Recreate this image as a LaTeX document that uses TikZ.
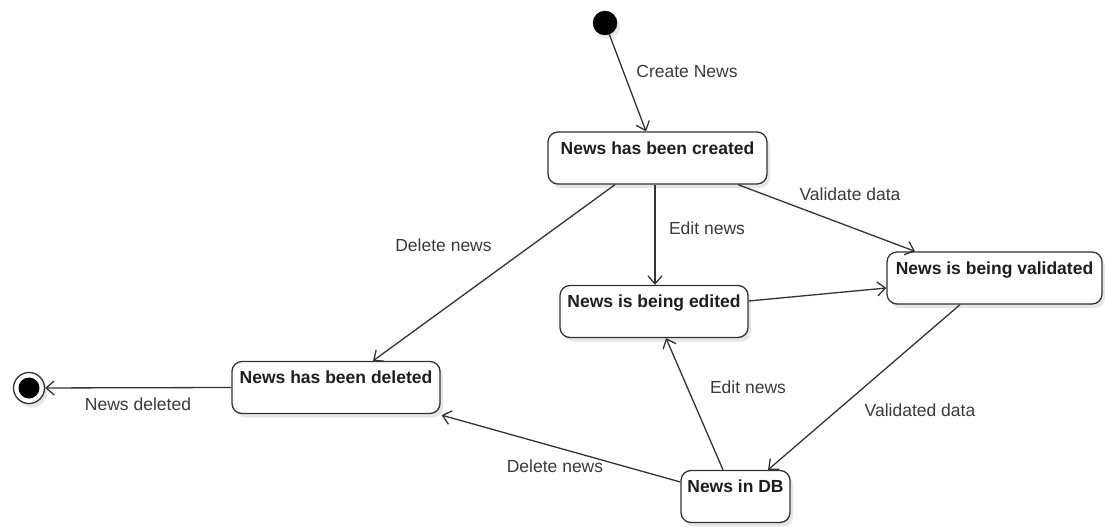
\documentclass[tikz,border=0pt]{standalone}
\usepackage{fontspec}
\setmainfont{Liberation Sans}
\usetikzlibrary{arrows.meta,shadows}
\definecolor{edge}{HTML}{333333}
\definecolor{lbl}{HTML}{3A3A3A}
\definecolor{ink}{HTML}{1E1E1E}
\tikzset{
  soft/.style={drop shadow={shadow xshift=3pt,shadow yshift=-4pt,fill=black!12,opacity=0.8}},
  statebox/.style={draw=edge,line width=1.3pt,rounded corners=10pt,fill=white,soft,
    inner xsep=0pt,inner ysep=0pt,text height=22pt,text depth=30pt,
    font=\fontsize{17.5}{20}\selectfont\bfseries,text=ink},
  initial/.style={circle,fill=black,draw=black,minimum size=24pt,inner sep=0pt,soft},
  final/.style={circle,draw=edge,fill=white,line width=1.3pt,minimum size=31pt,inner sep=0pt,soft,
    path picture={\fill[black] (path picture bounding box.center) circle (10.5pt);}},
  trans/.style={draw=edge,line width=1.3pt,-{Straight Barb[length=8pt,width=14pt,line width=1.3pt]}},
  tlabel/.style={font=\fontsize{17.5}{20}\selectfont,text=lbl,inner sep=0pt,text height=12.5pt,text depth=3.5pt}
}
\begin{document}
\begin{tikzpicture}[x=1pt,y=-1pt]
\useasboundingbox (0,0) rectangle (1105,527);

% states
\node[initial] (start) at (605,23) {};
\node[statebox,minimum width=219pt] (created) at (657.5,158) {News has been created};
\node[statebox,minimum width=188pt] (edited) at (654,311.5) {News is being edited};
\node[statebox,minimum width=215pt] (validated) at (994.5,278) {News is being validated};
\node[statebox,minimum width=208pt] (deleted) at (336,387.5) {News has been deleted};
\node[statebox,minimum width=109pt] (db) at (735.5,496.5) {News in DB};
\node[final] (end) at (29,388) {};

% transitions
\draw[trans] (start) -- ([xshift=-11.5pt]created.north);
\draw[trans] ([xshift=-42.5pt]created.south) -- ([xshift=37pt]deleted.north);
\draw[trans] ([xshift=-2.5pt]created.south) -- ([xshift=1pt]edited.north);
\draw[trans] ([xshift=80.5pt]created.south) -- ([xshift=-79.5pt]validated.north);
\draw[trans] ([yshift=10.5pt]edited.east) -- ([yshift=-10pt]validated.west);
\draw[trans] ([xshift=-34.5pt]validated.south) -- ([xshift=32.5pt]db.north);
\draw[trans] ([xshift=-12.5pt]db.north) -- ([xshift=12pt]edited.south);
\draw[trans] ([yshift=14.5pt]db.west) -- ([xshift=1pt,yshift=-1pt]deleted.south east);
\draw[trans] (deleted.west) -- (end);

% transition labels
\node[tlabel] (lcreate) at (687,73) {Create News};
\node[tlabel] (ldelete1) at (443.5,247) {Delete news};
\node[tlabel] (ledit1) at (707,230) {Edit news};
\node[tlabel] (lvalidate) at (850,196) {Validate data};
\node[tlabel] (lvalidated) at (920,412) {Validated data};
\node[tlabel] (ledit2) at (748,389) {Edit news};
\node[tlabel] (ldelete2) at (555,468) {Delete news};
\node[tlabel] (ldeleted) at (138,406) {News deleted};
\end{tikzpicture}
\end{document}
